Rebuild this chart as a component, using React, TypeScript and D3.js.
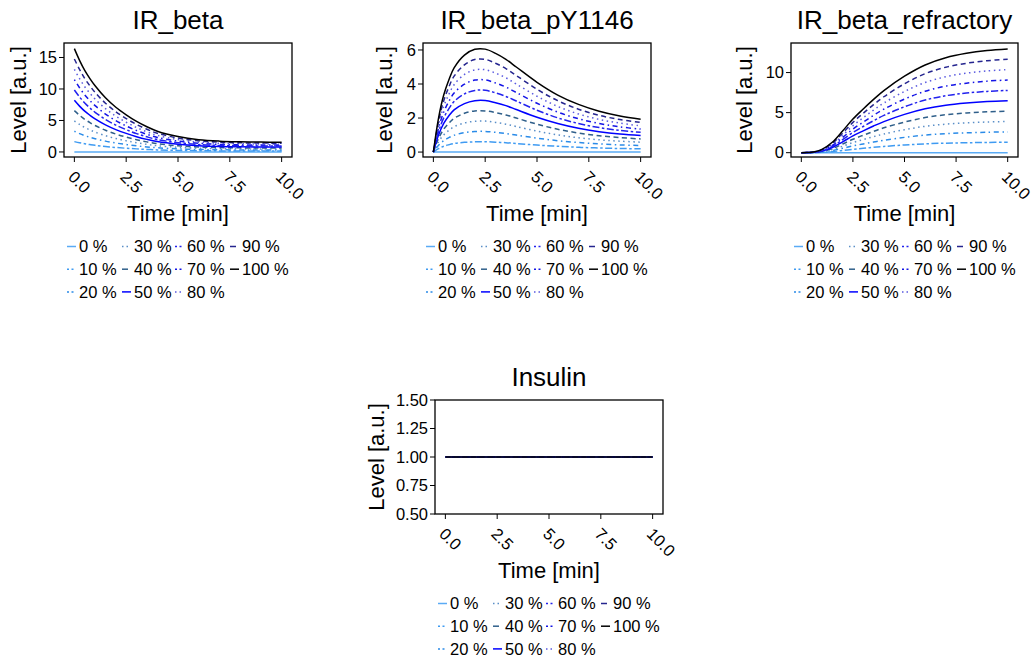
import React from 'react';
import * as d3 from 'd3';

const TIME = [0, 0.25, 0.5, 0.75, 1, 1.5, 2, 2.5, 3, 3.5, 4, 5, 6, 7, 8, 9, 10];
const INSULIN_TIME = [0, 10];
const LEVELS = ['0 %', '10 %', '20 %', '30 %', '40 %', '50 %', '60 %', '70 %', '80 %', '90 %', '100 %'];
const X_TICKS = [0, 2.5, 5, 7.5, 10];

const IR_BETA = [
  [0, 0, 0, 0, 0, 0, 0, 0, 0, 0, 0, 0, 0, 0, 0, 0, 0],
  [1.64, 1.46, 1.3, 1.17, 1.05, 0.86, 0.71, 0.59, 0.49, 0.4, 0.33, 0.25, 0.2, 0.17, 0.16, 0.16, 0.16],
  [3.28, 2.91, 2.59, 2.33, 2.1, 1.72, 1.42, 1.18, 0.97, 0.8, 0.66, 0.49, 0.39, 0.34, 0.32, 0.31, 0.31],
  [4.92, 4.37, 3.89, 3.5, 3.15, 2.58, 2.13, 1.77, 1.46, 1.2, 0.99, 0.74, 0.59, 0.52, 0.49, 0.47, 0.47],
  [6.56, 5.82, 5.18, 4.66, 4.2, 3.44, 2.84, 2.36, 1.94, 1.6, 1.32, 0.98, 0.78, 0.69, 0.65, 0.63, 0.62],
  [8.2, 7.28, 6.48, 5.83, 5.25, 4.3, 3.55, 2.95, 2.43, 2.0, 1.65, 1.23, 0.98, 0.86, 0.81, 0.79, 0.78],
  [9.84, 8.73, 7.77, 6.99, 6.3, 5.16, 4.26, 3.54, 2.91, 2.4, 1.98, 1.47, 1.17, 1.03, 0.97, 0.94, 0.93],
  [11.48, 10.19, 9.07, 8.16, 7.35, 6.02, 4.97, 4.13, 3.4, 2.8, 2.31, 1.72, 1.37, 1.2, 1.13, 1.1, 1.09],
  [13.12, 11.64, 10.36, 9.32, 8.4, 6.88, 5.68, 4.72, 3.88, 3.2, 2.64, 1.96, 1.56, 1.38, 1.3, 1.26, 1.24],
  [14.76, 13.1, 11.66, 10.49, 9.45, 7.74, 6.39, 5.31, 4.37, 3.6, 2.97, 2.21, 1.76, 1.55, 1.46, 1.41, 1.4],
  [16.4, 14.55, 12.95, 11.65, 10.5, 8.6, 7.1, 5.9, 4.85, 4.0, 3.3, 2.45, 1.95, 1.72, 1.62, 1.57, 1.55],
];

const IR_BETA_PY1146 = [
  [0, 0, 0, 0, 0, 0, 0, 0, 0, 0, 0, 0, 0, 0, 0, 0, 0],
  [0, 0.2, 0.34, 0.43, 0.5, 0.57, 0.6, 0.61, 0.58, 0.55, 0.5, 0.41, 0.34, 0.28, 0.24, 0.21, 0.19],
  [0, 0.4, 0.67, 0.85, 0.99, 1.14, 1.21, 1.21, 1.16, 1.09, 1.0, 0.82, 0.67, 0.56, 0.48, 0.42, 0.39],
  [0, 0.6, 1.01, 1.28, 1.49, 1.71, 1.81, 1.82, 1.74, 1.64, 1.5, 1.23, 1.01, 0.84, 0.72, 0.64, 0.58],
  [0, 0.8, 1.34, 1.7, 1.98, 2.28, 2.42, 2.42, 2.32, 2.18, 2.0, 1.64, 1.34, 1.12, 0.96, 0.85, 0.77],
  [0, 1.0, 1.68, 2.13, 2.48, 2.85, 3.02, 3.03, 2.9, 2.73, 2.5, 2.05, 1.68, 1.4, 1.2, 1.06, 0.97],
  [0, 1.2, 2.01, 2.55, 2.97, 3.42, 3.62, 3.63, 3.48, 3.27, 3.0, 2.46, 2.01, 1.68, 1.44, 1.27, 1.16],
  [0, 1.4, 2.35, 2.98, 3.47, 3.99, 4.23, 4.24, 4.06, 3.82, 3.5, 2.87, 2.35, 1.96, 1.68, 1.48, 1.35],
  [0, 1.6, 2.68, 3.4, 3.96, 4.56, 4.83, 4.84, 4.64, 4.36, 4.0, 3.28, 2.68, 2.24, 1.92, 1.7, 1.54],
  [0, 1.8, 3.02, 3.83, 4.46, 5.13, 5.44, 5.45, 5.22, 4.91, 4.5, 3.69, 3.02, 2.52, 2.16, 1.91, 1.74],
  [0, 2.0, 3.35, 4.25, 4.95, 5.7, 6.04, 6.05, 5.8, 5.45, 5.0, 4.1, 3.35, 2.8, 2.4, 2.12, 1.93],
];

const IR_BETA_REFRACTORY = [
  [0, 0, 0, 0, 0, 0, 0, 0, 0, 0, 0, 0, 0, 0, 0, 0, 0],
  [0, 0, 0.01, 0.02, 0.04, 0.13, 0.27, 0.42, 0.55, 0.67, 0.78, 0.96, 1.1, 1.19, 1.24, 1.28, 1.3],
  [0, 0, 0.01, 0.04, 0.08, 0.26, 0.54, 0.84, 1.09, 1.33, 1.55, 1.91, 2.19, 2.37, 2.48, 2.55, 2.59],
  [0, 0, 0.02, 0.05, 0.13, 0.39, 0.81, 1.26, 1.64, 2.0, 2.33, 2.87, 3.29, 3.56, 3.72, 3.83, 3.89],
  [0, 0, 0.02, 0.07, 0.17, 0.52, 1.08, 1.68, 2.18, 2.66, 3.1, 3.82, 4.38, 4.74, 4.96, 5.1, 5.18],
  [0, 0.01, 0.03, 0.09, 0.21, 0.65, 1.35, 2.1, 2.73, 3.33, 3.88, 4.78, 5.48, 5.93, 6.2, 6.38, 6.48],
  [0, 0.01, 0.04, 0.11, 0.25, 0.78, 1.62, 2.52, 3.27, 3.99, 4.65, 5.73, 6.57, 7.11, 7.44, 7.65, 7.77],
  [0, 0.01, 0.04, 0.13, 0.29, 0.91, 1.89, 2.94, 3.82, 4.66, 5.43, 6.69, 7.67, 8.3, 8.68, 8.93, 9.07],
  [0, 0.01, 0.05, 0.14, 0.34, 1.04, 2.16, 3.36, 4.36, 5.32, 6.2, 7.64, 8.76, 9.48, 9.92, 10.2, 10.36],
  [0, 0.01, 0.05, 0.16, 0.38, 1.17, 2.43, 3.78, 4.91, 5.99, 6.98, 8.6, 9.86, 10.67, 11.16, 11.48, 11.66],
  [0, 0.01, 0.06, 0.18, 0.42, 1.3, 2.7, 4.2, 5.45, 6.65, 7.75, 9.55, 10.95, 11.85, 12.4, 12.75, 12.95],
];

const INSULIN = [
  [1, 1], [1, 1], [1, 1], [1, 1], [1, 1], [1, 1], [1, 1], [1, 1], [1, 1], [1, 1], [1, 1],
];

const COLORS = ['#5aabf5', '#3f9bf2', '#2a8be8', '#5b8fc8', '#2f5f8a', '#0000ff', '#2222ee', '#1414e6', '#5a5ae0', '#25258f', '#000000'];
const DASHES = ['', '7,2.5,2.5,2.5', '1.5,3.5,5,3.5', '1.5,3.5', '5,3.5', '', '7,2.5,2.5,2.5', '1.5,3.5,5,3.5', '1.5,3.5', '5,3.5', ''];
const LEG_DASHES = ['', '2,2.5', '2,2.5', '1.5,3', '6,3', '', '2,2.5', '2,2.5', '1.5,3', '6,3', ''];

const FONT = '"Liberation Sans", Arial, Helvetica, sans-serif';

const PANELS = [
  { title: 'IR_beta', time: TIME, data: IR_BETA, yDomain: [-0.8, 17.3], yTicks: [0, 5, 10, 15], fmt: (v: number) => String(v), box: { x: 64, y: 43, w: 228, h: 114 }, ylabOff: 38.5 },
  { title: 'IR_beta_pY1146', time: TIME, data: IR_BETA_PY1146, yDomain: [-0.29, 6.41], yTicks: [0, 2, 4, 6], fmt: (v: number) => String(v), box: { x: 423, y: 43, w: 228, h: 114 }, ylabOff: 30.7 },
  { title: 'IR_beta_refractory', time: TIME, data: IR_BETA_REFRACTORY, yDomain: [-0.54, 13.69], yTicks: [0, 5, 10], fmt: (v: number) => String(v), box: { x: 791, y: 43, w: 227, h: 114 }, ylabOff: 39 },
  { title: 'Insulin', time: INSULIN_TIME, data: INSULIN, yDomain: [0.5, 1.5], yTicks: [0.5, 0.75, 1, 1.25, 1.5], fmt: (v: number) => v.toFixed(2), box: { x: 435, y: 400, w: 228, h: 114 }, ylabOff: 51 },
];

const LEG_COLS = [0, 55, 108, 163];

function Panel({ p }: { p: typeof PANELS[number] }) {
  const { box } = p;
  const x = d3.scaleLinear().domain([-0.5, 10.5]).range([box.x, box.x + box.w]);
  const y = d3.scaleLinear().domain(p.yDomain).range([box.y + box.h, box.y]);
  const line = d3
    .line<number>()
    .x((_, i) => x(p.time[i]))
    .y((d) => y(d))
    .curve(d3.curveCatmullRom.alpha(0.5));
  const cx = box.x + box.w / 2;
  const bottom = box.y + box.h;
  const legLeft = box.x + 3;
  return (
    <g>
      <text x={cx} y={box.y - 14} textAnchor="middle" fontSize={26} fontFamily={FONT}>
        {p.title}
      </text>
      {p.data.map((s, i) => (
        <path key={i} d={line(s) || ''} fill="none" stroke={COLORS[i]} strokeWidth={1.5} strokeDasharray={DASHES[i] || undefined} />
      ))}
      <rect x={box.x} y={box.y} width={box.w} height={box.h} fill="none" stroke="#000" strokeWidth={1.3} />
      {p.yTicks.map((t) => (
        <g key={t}>
          <line x1={box.x - 5} x2={box.x} y1={y(t)} y2={y(t)} stroke="#000" strokeWidth={1} />
          <text x={box.x - 7} y={y(t)} dy="0.35em" textAnchor="end" fontSize={16.5} fontFamily={FONT}>
            {p.fmt(t)}
          </text>
        </g>
      ))}
      {X_TICKS.map((t) => (
        <g key={t}>
          <line x1={x(t)} x2={x(t)} y1={bottom} y2={bottom + 5} stroke="#000" strokeWidth={1} />
          <text transform={`translate(${x(t) - 7},${bottom + 21}) rotate(45)`} textAnchor="start" fontSize={16.5} fontFamily={FONT}>
            {t.toFixed(1)}
          </text>
        </g>
      ))}
      <text x={cx} y={bottom + 63.7} textAnchor="middle" fontSize={22} fontFamily={FONT}>
        Time [min]
      </text>
      <text transform={`translate(${box.x - p.ylabOff},${box.y + box.h / 2}) rotate(-90)`} textAnchor="middle" fontSize={22} fontFamily={FONT}>
        Level [a.u.]
      </text>
      {LEVELS.map((lab, i) => {
        const col = Math.floor(i / 3);
        const row = i % 3;
        const lx = legLeft + LEG_COLS[col];
        const ly = bottom + 89.5 + row * 22.7;
        return (
          <g key={lab}>
            <line x1={lx} x2={lx + 9} y1={ly} y2={ly} stroke={COLORS[i]} strokeWidth={1.5} strokeDasharray={LEG_DASHES[i] || undefined} />
            <text x={lx + 12} y={ly} dy="0.35em" fontSize={16.5} fontFamily={FONT}>
              {lab}
            </text>
          </g>
        );
      })}
    </g>
  );
}

export default function App() {
  return (
    <svg width={1036} height={664} style={{ position: 'absolute', left: 0, top: 0, background: '#fff' }}>
      <rect x={0} y={0} width={1036} height={664} fill="#fff" />
      {PANELS.map((p) => (
        <Panel key={p.title} p={p} />
      ))}
    </svg>
  );
}
